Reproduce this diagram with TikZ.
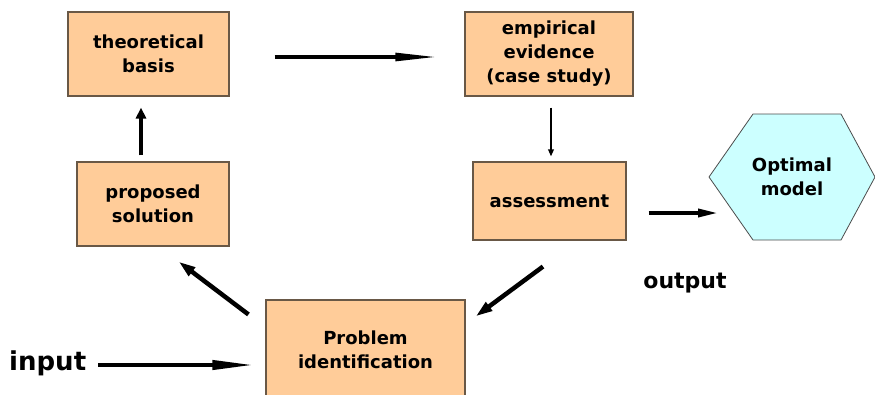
\documentclass[tikz,border=0pt]{standalone}
\usepackage{fontspec}
\setmainfont{DejaVu Sans}
\usepackage{tikz}
\usetikzlibrary{shapes,arrows.meta,positioning,calc}
\definecolor{peach}{RGB}{255,204,153}
\definecolor{peachline}{RGB}{105,88,70}
\definecolor{icecyan}{RGB}{204,255,255}

\begin{document}
\begin{tikzpicture}[
        x=1pt, y=-1pt,
        box/.style={draw=peachline, fill=peach, line width=1.1pt, align=center, inner sep=0pt, font=\fontsize{18}{24}\selectfont\bfseries},
        hexa/.style={draw=black!70, fill=icecyan, line width=0.8pt},
        lbl/.style={font=\bfseries},
        arr/.style={line width=4.5pt, -{Triangle[length=#1, width=10pt]}},
        arr/.default=12pt
    ]
    \useasboundingbox (0,0) rectangle (875,394);

    % Nodes
    \node[box, minimum width=161pt, minimum height=84pt] (theo) at (148.5,54) {theoretical\\basis};
    \node[box, minimum width=168pt, minimum height=84pt] (emp) at (549,54) {empirical\\evidence\\(case study)};
    \node[box, minimum width=152pt, minimum height=84pt] (prop) at (153,204) {proposed\\solution};
    \node[box, minimum width=153pt, minimum height=78pt] (assess) at (549.5,201) {assessment};
    \node[box, minimum width=199pt, minimum height=100pt] (prob) at (365.5,350) {Problem\\identification};

    \coordinate (optc) at (792,177);
    \draw[hexa] ($(optc)+(-83,0)$) -- ($(optc)+(-39,-63)$) -- ($(optc)+(49,-63)$)
        -- ($(optc)+(83,0)$) -- ($(optc)+(49,63)$) -- ($(optc)+(-39,63)$) -- cycle;
    \node[box, draw=none, fill=none] (opt) at (optc) {Optimal\\model};

    \node[lbl, font=\fontsize{26}{30}\selectfont\bfseries, anchor=west, inner sep=0pt] (in) at (9,363) {input};
    \node[lbl, font=\fontsize{22}{26}\selectfont\bfseries] (out) at (685,283) {output};

    % Edges
    \draw[line width=4pt, -{Triangle[length=42pt, width=9pt]}] ($(in.east)+(12,2)$) -- ($(prob.west)+(-11,15)$);
    \draw[line width=4pt, -{Triangle[length=45pt, width=7.5pt]}] ($(theo.east)+(45,3)$) -- ($(emp.west)+(-24,3)$);
    \draw[arr=11pt] ($(prop.north)+(-12,-6)$) -- ($(theo.south)+(-7.5,11)$);
    \draw[line width=2pt, -{Triangle[length=7pt, width=5.5pt]}] ($(emp.south)+(2,11)$) -- ($(assess.north)+(1.5,-5)$);
    \draw[line width=3.5pt, -{Triangle[length=20pt, width=8pt]}] ($(assess.east)+(22,12)$) -- ($(optc)+(-74,36)$);
    \draw[arr=17pt] ($(prob.north west)+(-17,15)$) -- ($(prop.south east)+(-51,15)$);
    \draw[arr=17pt] ($(assess.south)+(-6.5,26)$) -- ($(prob.north east)+(10,17)$);

\end{tikzpicture}
\end{document}
